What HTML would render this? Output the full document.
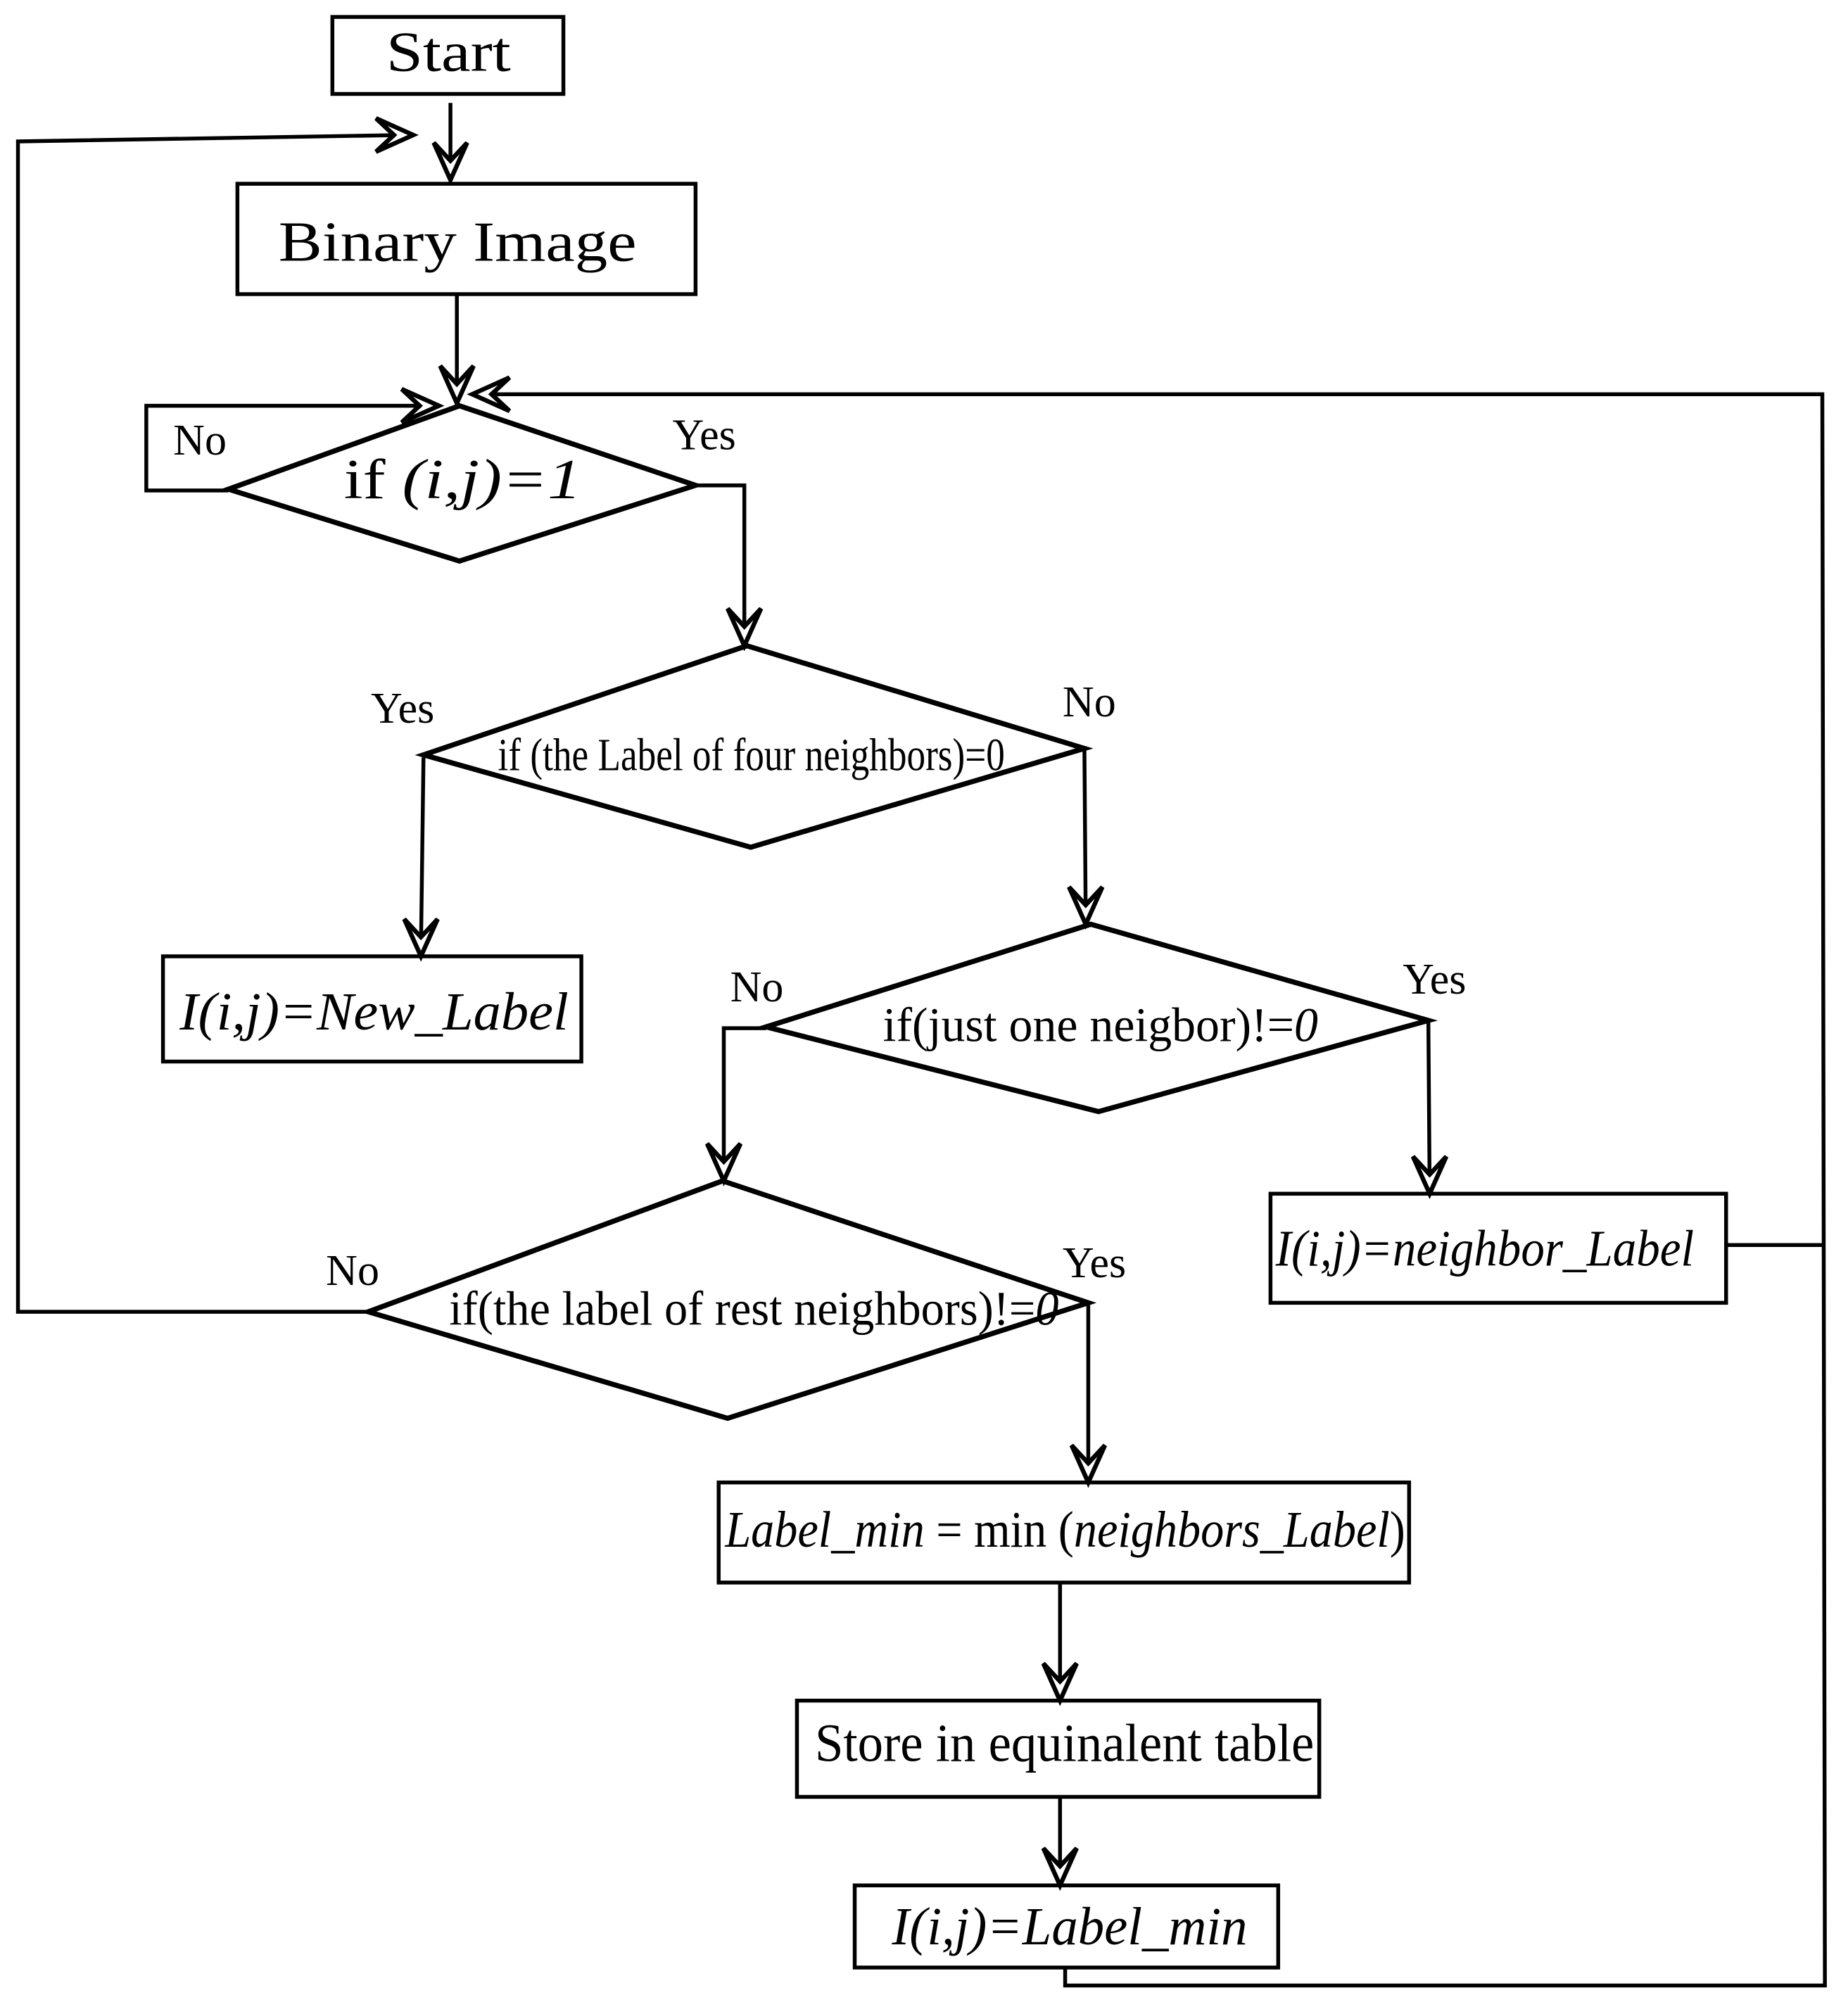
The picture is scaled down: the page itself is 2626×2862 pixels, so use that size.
<!DOCTYPE html>
<html><head><meta charset="utf-8"><style>html,body{margin:0;padding:0;background:#fff}svg{display:block}text{font-family:"Liberation Serif",serif}</style></head>
<body>
<svg width="2626" height="2862" viewBox="0 0 1440 1569" xmlns="http://www.w3.org/2000/svg" style="font-family:'Liberation Serif',serif">
<defs>
<path id="ah" d="M0,0 L-13,-29 L0,-15 L13,-29 Z" fill="#fff" stroke="#000" stroke-width="3.5" stroke-linejoin="miter"/>
</defs>
<g fill="none" stroke="#000" stroke-width="3">
<rect x="259" y="13" width="180" height="60" fill="#fff"/>
<rect x="185" y="143" width="357" height="86"/>
<rect x="127" y="745" width="326" height="82"/>
<rect x="990" y="930" width="355" height="85"/>
<rect x="560" y="1155" width="538" height="78"/>
<rect x="621" y="1325" width="407" height="75"/>
<rect x="666" y="1469" width="330" height="64"/>
<polygon points="178,381 358,316 542,378 358,437" stroke-width="4"/>
<polygon points="330,588 582,503 845,583 585,660" stroke-width="4"/>
<polygon points="597,800 850,720 1113,795 856,866" stroke-width="4"/>
<polygon points="287,1022 563,920 848,1015 567,1105" stroke-width="4"/>
<line x1="351" y1="80" x2="351" y2="135"/>
<line x1="356" y1="229" x2="356" y2="305"/>
<polyline points="178,382 114,382 114,316 330,316"/>
<polyline points="287,1022 14,1022 14,110 315,105"/>
<polyline points="1345,970 1420,970"/>
<polyline points="830,1533 830,1547 1422,1547 1420,307 378,307"/>
<polyline points="542,378 580,378 580,495"/>
<polyline points="330,590 328,740"/>
<polyline points="845,583 846,715"/>
<polyline points="597,801 564,801 564,915"/>
<polyline points="1113,795 1114,925"/>
<polyline points="848,1015 848,1150"/>
<line x1="826" y1="1233" x2="826" y2="1320"/>
<line x1="826" y1="1400" x2="826" y2="1464"/>
</g>
<use href="#ah" transform="translate(351,140)"/>
<use href="#ah" transform="translate(356,314)"/>
<use href="#ah" transform="translate(342,316) rotate(-90)"/>
<use href="#ah" transform="translate(322,105) rotate(-90)"/>
<use href="#ah" transform="translate(368,307) rotate(90)"/>
<use href="#ah" transform="translate(580,503)"/>
<use href="#ah" transform="translate(328,745)"/>
<use href="#ah" transform="translate(846,720)"/>
<use href="#ah" transform="translate(564,920)"/>
<use href="#ah" transform="translate(1114,930)"/>
<use href="#ah" transform="translate(848,1155)"/>
<use href="#ah" transform="translate(826,1325)"/>
<use href="#ah" transform="translate(826,1469)"/>
<g fill="#000" font-size="44">
<text x="301" y="55" textLength="97" lengthAdjust="spacingAndGlyphs">Start</text>
<text x="217" y="203" textLength="279" lengthAdjust="spacingAndGlyphs">Binary Image</text>
<text x="268" y="388" textLength="185" lengthAdjust="spacingAndGlyphs">if <tspan font-style="italic">(i,j)=1</tspan></text>
<g font-size="34">
<text x="135" y="354">No</text>
<text x="524" y="350">Yes</text>
<text x="289" y="563">Yes</text>
<text x="828" y="558">No</text>
<text x="569" y="780">No</text>
<text x="1093" y="774">Yes</text>
<text x="254" y="1001">No</text>
<text x="828" y="995">Yes</text>
</g>
<text x="388" y="600" font-size="36" textLength="395" lengthAdjust="spacingAndGlyphs">if (the Label of four neighbors)=0</text>
<text x="140" y="802" font-size="42" font-style="italic" textLength="303" lengthAdjust="spacingAndGlyphs">I(i,j)=New_Label</text>
<text x="688" y="811" font-size="38" textLength="339" lengthAdjust="spacingAndGlyphs">if(just one neigbor)!=<tspan font-style="italic">0</tspan></text>
<text x="994" y="986" font-size="40" font-style="italic" textLength="326" lengthAdjust="spacingAndGlyphs">I(i,j)=neighbor_Label</text>
<text x="350" y="1032" font-size="38" textLength="475" lengthAdjust="spacingAndGlyphs">if(the label of rest neighbors)!=<tspan font-style="italic">0</tspan></text>
<text x="565" y="1205" font-size="40" textLength="530" lengthAdjust="spacingAndGlyphs"><tspan font-style="italic">Label_min</tspan> = min (<tspan font-style="italic">neighbors_Label</tspan>)</text>
<text x="635" y="1372" font-size="42" textLength="389" lengthAdjust="spacingAndGlyphs">Store in equinalent table</text>
<text x="695" y="1515" font-size="42" font-style="italic" textLength="277" lengthAdjust="spacingAndGlyphs">I(i,j)=Label_min</text>
</g>
</svg>
</body></html>
